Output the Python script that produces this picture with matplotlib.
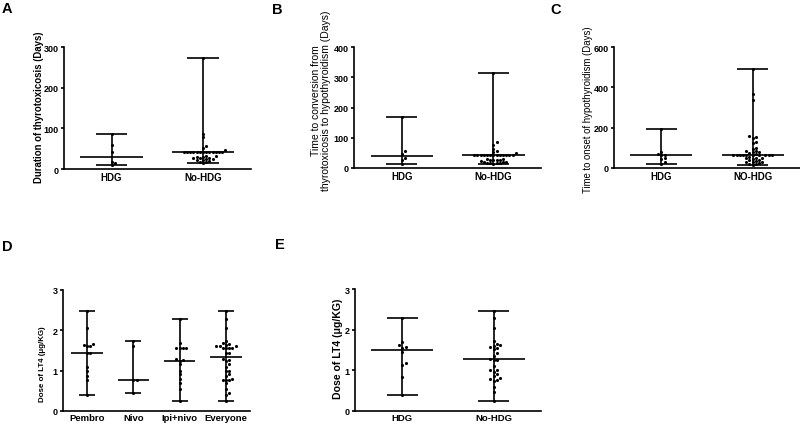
import numpy as np
import matplotlib
matplotlib.use("Agg")
import matplotlib.pyplot as plt

plt.rcParams['font.family'] = ['Liberation Sans', 'DejaVu Sans']

# ---------------- data ----------------
# Panel A: Duration of thyrotoxicosis (days)
a_groups = ["HDG", "No-HDG"]
a_hdg = [85, 58, 42, 17, 15, 9]
a_nohdg = [273, 86, 78, 57, 52, 47] + [42] * 13 + [32, 31, 30, 30, 28, 27, 26, 24, 24, 22, 21, 20, 18, 16, 14]
a_medians = [29, 42]

# Panel B: Time to conversion (days)
b_groups = ["HDG", "No-HDG"]
b_hdg = [170, 55, 47, 33, 25, 13]
b_nohdg = [315, 85, 77, 63, 57, 52, 50] + [42] * 13 + [30, 29, 28, 27, 26, 25, 22, 21, 20, 19, 18, 17, 16, 15, 13]
b_medians = [40, 42]

# Panel C: Time to onset of hypothyroidism (days)
c_groups = ["HDG", "NO-HDG"]
c_hdg = [192, 78, 70, 65, 62, 50, 45, 28, 22]
c_nohdg = [490, 365, 338, 160, 155, 150, 130, 125, 100, 95, 85, 82, 80, 78, 72, 70] + [63] * 10 + \
          [55, 52, 50, 48, 45, 40, 38, 35, 32, 30, 28, 25, 22, 20, 15]
c_medians = [62, 63]

# Panel D: Dose of LT4 by treatment
d_groups = ["Pembro", "Nivo", "Ipi+nivo", "Everyone"]
d_pembro = [2.47, 2.05, 1.65, 1.63, 1.62, 1.60, 1.45, 1.43, 1.10, 1.00, 0.88, 0.78, 0.40]
d_nivo = [1.74, 1.60, 0.78, 0.77, 0.44]
d_ipinivo = [2.28, 1.69, 1.57, 1.56, 1.55, 1.55, 1.30, 1.26, 1.25, 1.17, 1.00, 0.92, 0.80, 0.70, 0.55, 0.26]
d_everyone = d_pembro + d_nivo + d_ipinivo
d_medians = [1.43, 0.78, 1.25, 1.35]

# Panel E: Dose of LT4 by HDG
e_groups = ["HDG", "No-HDG"]
e_hdg = [2.28, 1.70, 1.62, 1.58, 1.56, 1.44, 1.17, 1.13, 0.84, 0.39]
e_nohdg = [2.46, 2.28, 2.04, 1.73, 1.65, 1.62, 1.60, 1.58, 1.55, 1.52, 1.42, 1.35, 1.28, 1.26, 1.25,
           1.10, 1.02, 1.00, 0.95, 0.92, 0.87, 0.80, 0.78, 0.77, 0.75, 0.58, 0.46, 0.25]
e_medians = [1.50, 1.28]

# ---------------- drawing ----------------
W, H, DPI = 800, 427, 100
fig = plt.figure(figsize=(W / DPI, H / DPI), dpi=DPI)
fig.patch.set_facecolor("white")


def px_rect(x0, x1, ytop, ybot):
    return [x0 / W, (H - ybot) / H, (x1 - x0) / W, (ybot - ytop) / H]


def swarm_offsets(ax, xc, vals, step_px=3.2, min_px=3.0):
    t0 = ax.transData.transform((0, 0))
    t1 = ax.transData.transform((1, 1))
    sx = t1[0] - t0[0]
    sy = t1[1] - t0[1]
    order = np.argsort(vals)
    placed = []
    xs = np.zeros(len(vals))
    cands = [0]
    for j in range(1, 40):
        cands += [j, -j]
    for idx in order:
        ypx = vals[idx] * sy
        for c in cands:
            xpx = c * step_px
            ok = True
            for (px_, py_) in placed:
                if (px_ - xpx) ** 2 + (py_ - ypx) ** 2 < min_px ** 2:
                    ok = False
                    break
            if ok:
                placed.append((xpx, ypx))
                xs[idx] = xc + xpx / sx
                break
    return xs


def panel(box, groups, data, medians, ylim, yticks, ylabel, letter, letter_xy,
          label_center, label_bold=True, label_size=6.5, xlab_size=7, xpad=2.5):
    x0, x1, ytop, ybot = box
    ax = fig.add_axes(px_rect(x0, x1, ytop, ybot))
    n = len(groups)
    ax.set_xlim(-0.52, n - 1 + 0.52)
    ax.set_ylim(*ylim)
    for i, (vals, med) in enumerate(zip(data, medians)):
        vals = np.asarray(vals, dtype=float)
        lo, hi = vals.min(), vals.max()
        ax.vlines(i, lo, hi, color="black", lw=1.2, zorder=2)
        ax.hlines([lo, hi], i - 0.17, i + 0.17, color="black", lw=1.2, zorder=2)
        ax.hlines(med, i - 0.34, i + 0.34, color="black", lw=1.2, zorder=2)
        xs = swarm_offsets(ax, i, vals)
        ax.scatter(xs, vals, s=5, color="black", linewidths=0, zorder=3, clip_on=False)
    for s in ("top", "right"):
        ax.spines[s].set_visible(False)
    for s in ("left", "bottom"):
        ax.spines[s].set_linewidth(1.2)
    ax.set_yticks(yticks)
    ax.set_yticklabels([str(t) for t in yticks], fontsize=6.5, fontweight="bold")
    ax.set_xticks(range(n))
    ax.set_xticklabels(groups, fontsize=xlab_size, fontweight="bold")
    ax.tick_params(axis="x", length=0, pad=xpad)
    ax.tick_params(axis="y", length=2.5, width=1.2, pad=1.4)
    ax.set_ylabel(ylabel, fontsize=label_size, fontweight="bold" if label_bold else "normal",
                  linespacing=1.05)
    lx, ly = label_center
    ax.yaxis.set_label_coords((lx - x0) / (x1 - x0), (ybot - ly) / (ybot - ytop))
    ax.yaxis.label.set_va("center")
    fig.text(letter_xy[0] / W, 1 - letter_xy[1] / H, letter, fontsize=10.5, fontweight="bold",
             ha="left", va="top")
    return ax


panel((64, 250.5, 48, 170), a_groups, [a_hdg, a_nohdg], a_medians, (0, 300), [0, 100, 200, 300],
      "Duration of thyrotoxicosis (Days)", "A", (2, 2), (39, 107), label_size=6.9)
panel((354, 541, 48, 169), b_groups, [b_hdg, b_nohdg], b_medians, (0, 400), [0, 100, 200, 300, 400],
      "Time to conversion from\nthyrotoxicosis to hypothyroidism (Days)", "B", (272, 3), (321, 101),
      label_bold=False, label_size=7.5)
panel((614, 800, 48, 169), c_groups, [c_hdg, c_nohdg], c_medians, (0, 600), [0, 200, 400, 600],
      "Time to onset of hypothyroidism (Days)", "C", (550, 3), (588, 110), label_bold=False, label_size=6.9)
panel((63, 250, 291, 412), d_groups, [d_pembro, d_nivo, d_ipinivo, d_everyone], d_medians, (0, 3),
      [0, 1, 2, 3], "Dose of LT4 (\u03bcg/KG)", "D", (2, 240), (43, 364), label_size=5.7,
      xlab_size=6.8, xpad=1.5)
panel((355, 541, 290, 412), e_groups, [e_hdg, e_nohdg], e_medians, (0, 3), [0, 1, 2, 3],
      "Dose of LT4 (\u03bcg/KG)", "E", (275, 238), (338, 349), label_size=7.6, xlab_size=6.8, xpad=1.5)

fig.savefig("out.png", dpi=DPI, facecolor="white")
